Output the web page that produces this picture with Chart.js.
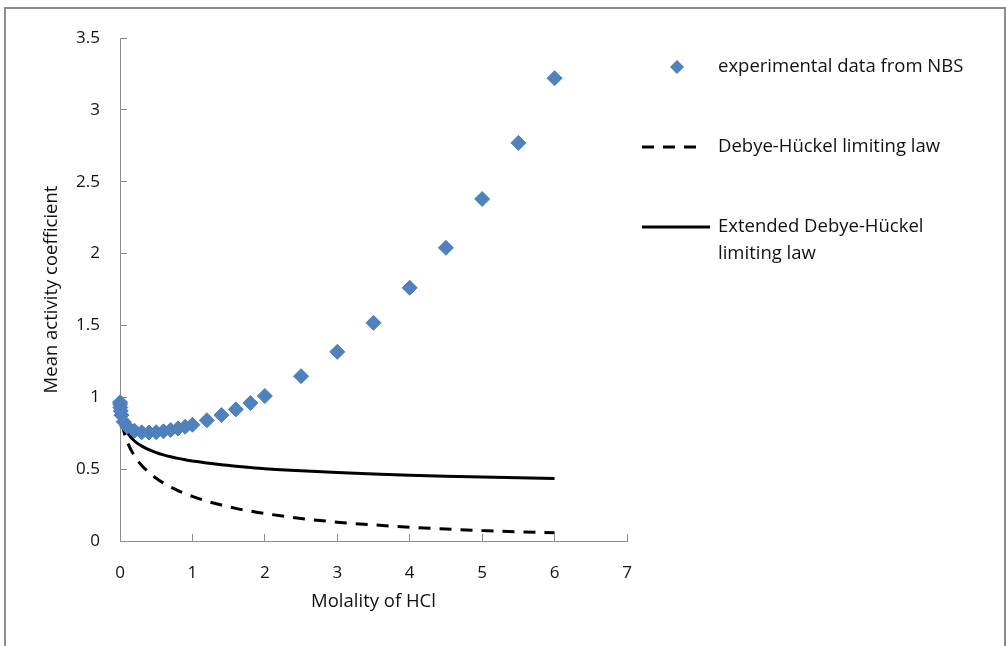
<!DOCTYPE html>
<html>
<head>
<meta charset="utf-8">
<script src="https://cdn.jsdelivr.net/npm/chart.js@4.4.1/dist/chart.umd.min.js"></script>
<style>
  html, body { margin: 0; padding: 0; background: #fff; }
  #frame { position: absolute; left: 4px; top: 7px; width: 998px; height: 660px; border: 2px solid #8c8c8c; }
  #wrap { position: absolute; left: 0; top: 0; width: 1006px; height: 646px; }
</style>
</head>
<body>
<div id="frame"></div>
<div id="wrap"><canvas id="hcl_chart" width="1006" height="646"></canvas></div>
<script>

// Mean activity coefficient of HCl vs molality

Chart.defaults.font.family = "'Open Sans', sans-serif";
Chart.defaults.font.size = 18.5;
Chart.defaults.color = '#111';

var molality = [0.001, 0.002, 0.005, 0.01, 0.02, 0.05, 0.1, 0.2, 0.3, 0.4, 0.5, 0.6, 0.7, 0.8, 0.9, 1.0,
                1.2, 1.4, 1.6, 1.8, 2.0, 2.5, 3.0, 3.5, 4.0, 4.5, 5.0, 5.5, 6.0];

var gamma_nbs = [0.965, 0.952, 0.929, 0.905, 0.876, 0.830, 0.796, 0.767, 0.756, 0.755, 0.757, 0.763, 0.772, 0.783, 0.795, 0.809,
                 0.840, 0.876, 0.916, 0.960, 1.009, 1.147, 1.316, 1.518, 1.762, 2.040, 2.380, 2.770, 3.220];

var gamma_dh = [0.964, 0.949, 0.921, 0.889, 0.847, 0.769, 0.690, 0.592, 0.526, 0.477, 0.437, 0.403, 0.375, 0.351, 0.329, 0.310,
                0.277, 0.250, 0.227, 0.208, 0.191, 0.157, 0.131, 0.112, 0.096, 0.083, 0.073, 0.064, 0.057];

var gamma_ext = [0.965, 0.951, 0.926, 0.899, 0.865, 0.807, 0.755, 0.696, 0.660, 0.635, 0.615, 0.599, 0.586, 0.575, 0.565, 0.557,
                 0.542, 0.530, 0.520, 0.511, 0.503, 0.488, 0.476, 0.466, 0.458, 0.451, 0.445, 0.440, 0.435];

var labels = ['experimental data from NBS', 'Debye-Hückel limiting law', ['Extended Debye-Hückel', 'limiting law']];

function pairs(xs, ys) {
    var out = [];
    for (var i = 0; i < xs.length; i++) out.push({x: xs[i], y: ys[i]});
    return out;
}

// legend drawn by hand, to the right of the plot
var sideLegend = {
    id: 'sideLegend',
    afterDraw: function(chart) {
        var c = chart.ctx;
        var r = chart.chartArea.right;
        var ys = [67, 147, 227];
        var ds = chart.data.datasets;
        c.save();
        c.font = "18.5px 'Open Sans', sans-serif";
        c.textBaseline = 'middle';
        for (var i = 0; i < ds.length; i++) {
            var y = ys[i];
            if (i === 0) {
                c.fillStyle = ds[0].backgroundColor;
                c.strokeStyle = ds[0].borderColor;
                c.lineWidth = 1;
                c.beginPath();
                c.moveTo(r + 50, y - 6.5); c.lineTo(r + 56.5, y); c.lineTo(r + 50, y + 6.5); c.lineTo(r + 43.5, y);
                c.closePath(); c.fill(); c.stroke();
            } else {
                c.strokeStyle = '#000';
                c.lineWidth = 3;
                c.setLineDash(ds[i].borderDash || []);
                c.beginPath();
                c.moveTo(r + 15, y);
                c.lineTo(i === 1 ? r + 71 : r + 83, y);
                c.stroke();
                c.setLineDash([]);
            }
            c.fillStyle = '#111';
            var txt = labels[i];
            if (Array.isArray(txt)) {
                for (var k = 0; k < txt.length; k++) c.fillText(txt[k], r + 91, y + k * 27);
            } else {
                c.fillText(txt, r + 91, y);
            }
        }
        c.restore();
    }
};

var ctx = document.getElementById('hcl_chart').getContext('2d');

var hcl_chart = new Chart(ctx, {
    type: 'scatter',
    data: {
        datasets: [
            {
                label: labels[0],
                data: pairs(molality, gamma_nbs),
                pointStyle: 'rectRot',
                pointRadius: 7.5,
                pointHoverRadius: 7.5,
                backgroundColor: '#4f81bd',
                borderColor: '#4a7ebb',
                borderWidth: 1,
                showLine: false,
                clip: false,
            },
            {
                label: labels[1],
                data: pairs(molality, gamma_dh),
                showLine: true,
                pointRadius: 0,
                borderColor: '#000',
                borderWidth: 3,
                borderDash: [12, 9],
                cubicInterpolationMode: 'monotone',
            },
            {
                label: 'Extended Debye-Hückel limiting law',
                data: pairs(molality, gamma_ext),
                showLine: true,
                pointRadius: 0,
                borderColor: '#000',
                borderWidth: 3,
                cubicInterpolationMode: 'monotone',
            },
        ],
    },
    options: {
        responsive: false,
        animation: false,
        layout: { padding: { left: 0, top: 38, right: 379, bottom: 0 } },
        scales: {
            x: {
                type: 'linear',
                min: 0, max: 7,
                ticks: { stepSize: 1, padding: 29, font: { size: 17 } },
                grid: { drawOnChartArea: false, tickLength: -7, color: '#8c8c8c' },
                border: { color: '#8c8c8c' },
                title: { display: true, text: 'Molality of HCl', padding: { bottom: 33 } },
                afterFit: function(scale) { scale.height = 105; },
            },
            y: {
                min: 0, max: 3.5,
                ticks: {
                    stepSize: 0.5, padding: 27, font: { size: 17 },
                    callback: function(v) { return String(Math.round(v * 10) / 10); },
                },
                grid: { drawOnChartArea: false, tickLength: -7, color: '#8c8c8c' },
                border: { color: '#8c8c8c' },
                title: { display: true, text: 'Mean activity coefficient', padding: { top: 41 } },
                afterFit: function(scale) { scale.width = 120; },
            },
        },
        plugins: {
            legend: { display: false },
            tooltip: { enabled: false },
        },
    },
    plugins: [sideLegend],
});
</script>
</body>
</html>
